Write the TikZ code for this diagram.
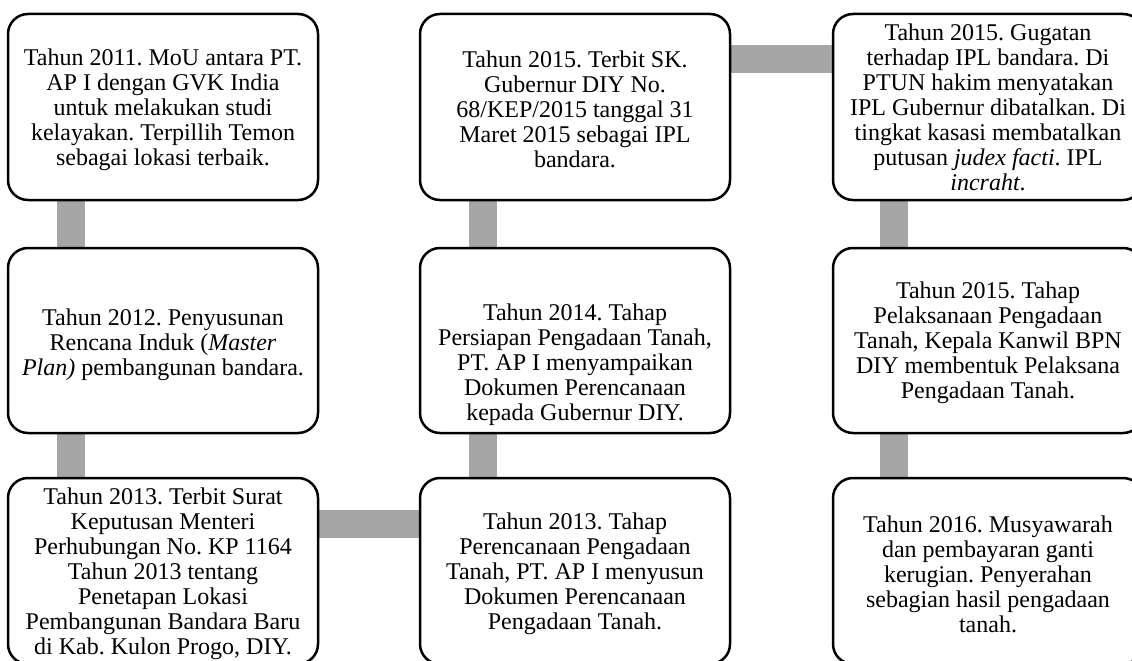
\documentclass[tikz,border=0pt]{standalone}
\usepackage{fontspec}
\setmainfont{Liberation Serif}
\usetikzlibrary{backgrounds}
\frenchspacing
\begin{document}
\begin{tikzpicture}[x=1pt,y=-1pt,
  box/.style={draw=black, line width=2.5pt, rounded corners=20pt, fill=white,
    minimum width=310pt, inner sep=0pt},
  txt/.style={inner sep=0pt, align=center, font=\fontsize{24}{25}\selectfont},
  conn/.style={draw={rgb,255:red,166;green,166;blue,166}, line width=28pt}]
\useasboundingbox (0,0) rectangle (1132,661);
% boxes
\node[box, minimum height=186pt] (a1) at (163,107) {};
\node[box, minimum height=185pt] (a2) at (163,340.5) {};
\node[box, minimum height=186pt] (a3) at (163,571) {};
\node[box, minimum height=186pt] (b3) at (575,571) {};
\node[box, minimum height=185pt] (b2) at (575,340.5) {};
\node[box, minimum height=186pt] (b1) at (575,107) {};
\node[box, minimum height=186pt] (c1) at (988,107) {};
\node[box, minimum height=185pt] (c2) at (988,340.5) {};
\node[box, minimum height=186pt] (c3) at (988,571) {};
% texts
\node[txt] (a1t) at ([yshift=-3pt]a1.center) {Tahun 2011. MoU antara PT.\\AP I dengan GVK India\\untuk melakukan studi\\kelayakan. Terpillih Temon\\sebagai lokasi terbaik.};
\node[txt] (a2t) at ([yshift=-4pt]a2.center) {Tahun 2012. Penyusunan\\Rencana Induk (\textit{Master}\\\textit{Plan)} pembangunan bandara.};
\node[txt] (a3t) at ([yshift=-3pt]a3.center) {Tahun 2013. Terbit Surat\\Keputusan Menteri\\Perhubungan No. KP 1164\\Tahun 2013 tentang\\Penetapan Lokasi\\Pembangunan Bandara Baru\\di Kab. Kulon Progo, DIY.};
\node[txt] (b3t) at ([yshift=-3pt]b3.center) {Tahun 2013. Tahap\\Perencanaan Pengadaan\\Tanah, PT. AP I menyusun\\Dokumen Perencanaan\\Pengadaan Tanah.};
\node[txt] (b2t) at ([yshift=-24pt]b2.center) {Tahun 2014. Tahap\\Persiapan Pengadaan Tanah,\\PT. AP I menyampaikan\\Dokumen Perencanaan\\kepada Gubernur DIY.};
\node[txt] (b1t) at ([yshift=-2pt]b1.center) {Tahun 2015. Terbit SK.\\Gubernur DIY No.\\68/KEP/2015 tanggal 31\\Maret 2015 sebagai IPL\\bandara.};
\node[txt] (c1t) at ([yshift=0pt]c1.center) {Tahun 2015. Gugatan\\terhadap IPL bandara. Di\\PTUN hakim menyatakan\\IPL Gubernur dibatalkan. Di\\tingkat kasasi membatalkan\\putusan \textit{judex facti}. IPL\\\textit{incraht}.};
\node[txt] (c2t) at ([yshift=-2pt]c2.center) {Tahun 2015. Tahap\\Pelaksanaan Pengadaan\\Tanah, Kepala Kanwil BPN\\DIY membentuk Pelaksana\\Pengadaan Tanah.};
\node[txt] (c3t) at ([yshift=-3pt]c3.center) {Tahun 2016. Musyawarah\\dan pembayaran ganti\\kerugian. Penyerahan\\sebagian hasil pengadaan\\tanah.};
% connectors
\begin{pgfonlayer}{background}
\draw[conn] ([xshift=64pt]a1.south west) -- ([xshift=64pt]a2.north west);
\draw[conn] ([xshift=64pt]a2.south west) -- ([xshift=64pt]a3.north west);
\draw[conn] ([yshift=-47pt]a3.north east) -- ([yshift=-47pt]b3.north west);
\draw[conn] ([xshift=64pt]b3.north west) -- ([xshift=64pt]b2.south west);
\draw[conn] ([xshift=64pt]b2.north west) -- ([xshift=64pt]b1.south west);
\draw[conn] ([yshift=-46pt]b1.north east) -- ([yshift=-46pt]c1.north west);
\draw[conn] ([xshift=62pt]c1.south west) -- ([xshift=62pt]c2.north west);
\draw[conn] ([xshift=62pt]c2.south west) -- ([xshift=62pt]c3.north west);
\end{pgfonlayer}
\end{tikzpicture}
\end{document}
